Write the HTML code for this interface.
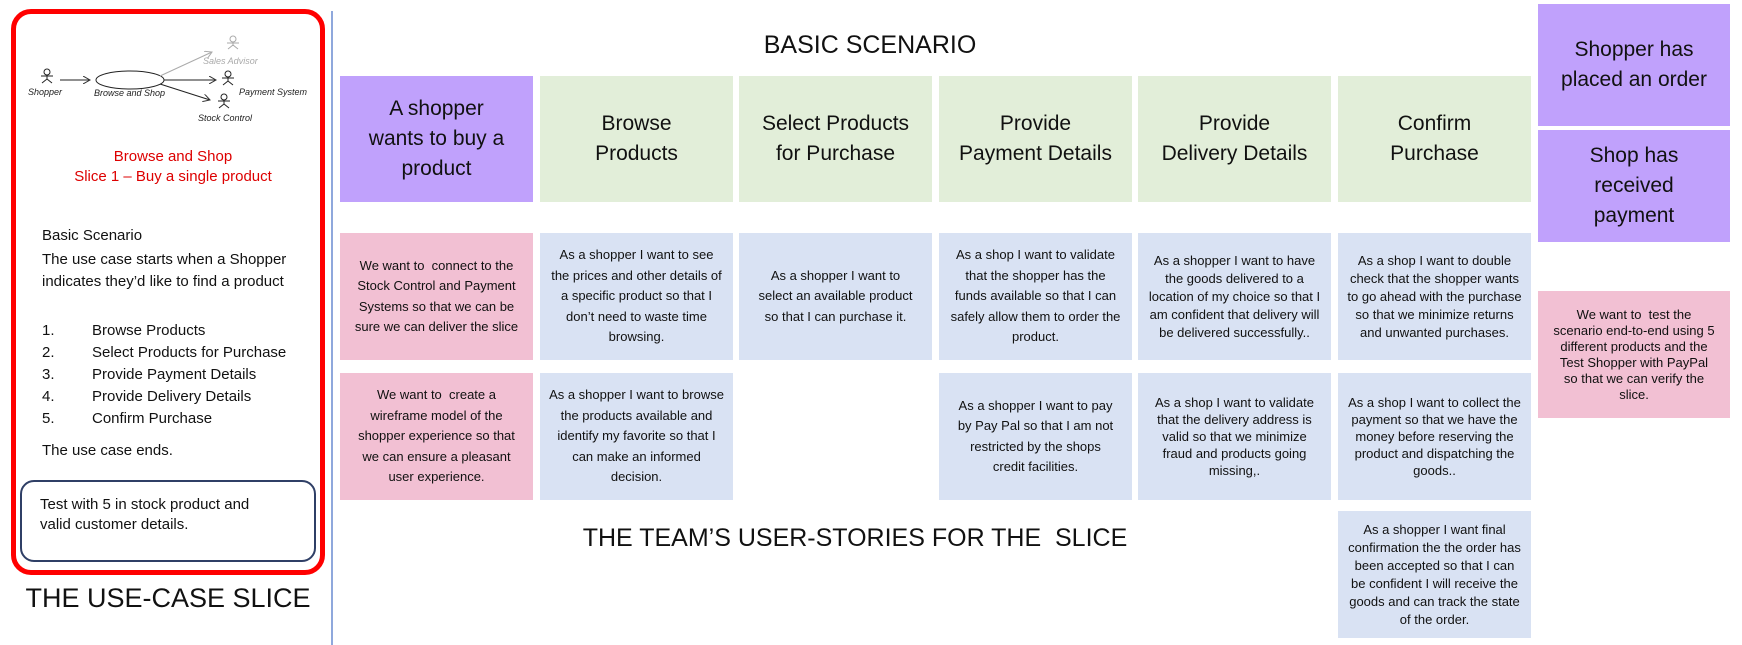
<!DOCTYPE html>
<html><head><meta charset="utf-8"><style>
*{margin:0;padding:0;box-sizing:border-box}
body{width:1742px;height:645px;background:#fff;position:relative;overflow:hidden;font-family:"Liberation Sans",sans-serif;color:#111}
.a{position:absolute}
.box{position:absolute;display:flex;align-items:center;justify-content:center;text-align:center}
.h{font-size:21px;line-height:30px;width:193px;height:126px;top:76px;padding:0 26px}
.s{font-size:13px;line-height:20.5px;width:193px;height:127px;padding:0 9px}
.p{background:#c0a1fc}.g{background:#e2eed9}.b{background:#d9e2f3}.k{background:#f2c0d3}
.t{position:absolute;left:42px;font-size:15px;white-space:nowrap}
</style></head><body>
<div class="a" style="left:11px;top:9px;width:314px;height:566px;border:5px solid #f00;border-radius:20px"></div>
<svg class="a" style="left:0;top:0" width="340" height="140" font-family="Liberation Sans" font-style="italic" font-size="9">
<defs><marker id="m" markerWidth="8" markerHeight="8" refX="7" refY="4" orient="auto"><path d="M0,0L7,4L0,8" fill="none" stroke="#333"/></marker>
<marker id="mg" markerWidth="8" markerHeight="8" refX="7" refY="4" orient="auto"><path d="M0,0L7,4L0,8" fill="none" stroke="#aaa"/></marker></defs>
<g stroke="#222" fill="none" stroke-width="1">
<circle cx="47" cy="72" r="3"/><path d="M41,76h12M47,75v4M42,83l5-4l5,4"/>
<circle cx="228" cy="74" r="3"/><path d="M222,78h12M228,77v4M223,85l5-4l5,4"/>
<circle cx="224" cy="97" r="3"/><path d="M218,101h12M224,100v4M219,108l5-4l5,4"/>
<ellipse cx="130" cy="80" rx="34" ry="9"/>
<path d="M60,80H90" marker-end="url(#m)"/>
<path d="M164,80H216" marker-end="url(#m)"/>
<path d="M160,84L210,100" marker-end="url(#m)"/>
</g>
<g stroke="#aaa" fill="none"><circle cx="233" cy="39" r="3"/><path d="M227,43h12M233,42v4M228,49l5-4l5,4"/><path d="M160,76L212,52" marker-end="url(#mg)"/></g>
<text x="28" y="95" fill="#222">Shopper</text>
<text x="94" y="96" fill="#222">Browse and Shop</text>
<text x="203" y="64" fill="#aaa">Sales Advisor</text>
<text x="239" y="95" fill="#222">Payment System</text>
<text x="198" y="121" fill="#222">Stock Control</text>
</svg>
<div class="a" style="left:11px;width:324px;top:147px;text-align:center;color:#d00;font-size:15px;line-height:20px">Browse and Shop<br>Slice 1 – Buy a single product</div>
<div class="t" style="top:227px">Basic Scenario</div>
<div class="t" style="top:249px;line-height:22px;white-space:normal;width:250px">The use case starts when a Shopper indicates they’d like to find a product</div>
<div class="t" style="top:322px">1.</div><div class="t" style="top:322px;left:92px">Browse Products</div>
<div class="t" style="top:344px">2.</div><div class="t" style="top:344px;left:92px">Select Products for Purchase</div>
<div class="t" style="top:366px">3.</div><div class="t" style="top:366px;left:92px">Provide Payment Details</div>
<div class="t" style="top:388px">4.</div><div class="t" style="top:388px;left:92px">Provide Delivery Details</div>
<div class="t" style="top:410px">5.</div><div class="t" style="top:410px;left:92px">Confirm Purchase</div>
<div class="t" style="top:442px">The use case ends.</div>
<div class="a" style="left:20px;top:480px;width:296px;height:82px;border:2px solid #2f3f66;border-radius:14px;padding:13px 0 0 18px;font-size:15px;line-height:20px">Test with 5 in stock product and<br>valid customer details.</div>
<div class="a" style="left:11px;width:314px;top:583px;text-align:center;font-size:27px">THE USE-CASE SLICE</div>
<div class="a" style="left:331px;top:11px;width:2px;height:634px;background:#8fa8dc"></div>
<div class="a" style="left:640px;width:460px;top:31px;text-align:center;font-size:25px">BASIC SCENARIO</div>
<div class="a" style="left:480px;width:750px;top:524px;text-align:center;font-size:25px">THE TEAM’S USER-STORIES FOR THE&nbsp; SLICE</div>

<div class="box h p" style="left:340px">A shopper wants to buy a product</div>
<div class="box h g" style="left:540px">Browse<br>Products</div>
<div class="box h g" style="left:739px;padding:0 14px">Select Products for Purchase</div>
<div class="box h g" style="left:939px;padding:0 6px">Provide<br>Payment Details</div>
<div class="box h g" style="left:1138px;padding:0 6px">Provide<br>Delivery Details</div>
<div class="box h g" style="left:1338px">Confirm<br>Purchase</div>

<div class="box h p" style="left:1538px;top:4px;height:122px;width:192px;padding:0 20px">Shopper has placed an order</div>
<div class="box h p" style="left:1538px;top:130px;height:112px;width:192px;padding:0 40px">Shop has received payment</div>
<div class="box s k" style="left:1538px;top:291px;width:192px;line-height:16px;height:127px;padding:0 14px">We want to&nbsp; test the scenario end-to-end using 5 different products and the Test Shopper with PayPal so that we can verify the slice.</div>

<div class="box s k" style="left:340px;top:233px">We want to&nbsp; connect to the Stock Control and Payment Systems so that we can be sure we can deliver the slice</div>
<div class="box s b" style="left:540px;top:233px">As a shopper I want to see the prices and other details of a specific product so that I don’t need to waste time browsing.</div>
<div class="box s b" style="left:739px;top:233px;padding:0 18px">As a shopper I want to select an available product so that I can purchase it.</div>
<div class="box s b" style="left:939px;top:233px">As a shop I want to validate that the shopper has the funds available so that I can safely allow them to order the product.</div>
<div class="box s b" style="left:1138px;top:233px;line-height:18px">As a shopper I want to have the goods delivered to a location of my choice so that I am confident that delivery will be delivered successfully..</div>
<div class="box s b" style="left:1338px;top:233px;line-height:18px">As a shop I want to double check that the shopper wants to go ahead with the purchase so that we minimize returns and unwanted purchases.</div>

<div class="box s k" style="left:340px;top:373px">We want to&nbsp; create a wireframe model of the shopper experience so that we can ensure a pleasant user experience.</div>
<div class="box s b" style="left:540px;top:373px">As a shopper I want to browse the products available and identify my favorite so that I can make an informed decision.</div>
<div class="box s b" style="left:939px;top:373px;padding:0 14px">As a shopper I want to pay by Pay Pal so that I am not restricted by the shops credit facilities.</div>
<div class="box s b" style="left:1138px;top:373px;line-height:17px">As a shop I want to validate that the delivery address is valid so that we minimize fraud and products going missing,.</div>
<div class="box s b" style="left:1338px;top:373px;line-height:17px">As a shop I want to collect the payment so that we have the money before reserving the product and dispatching the goods..</div>
<div class="box s b" style="left:1338px;top:511px;line-height:18px">As a shopper I want final confirmation the the order has been accepted so that I can be confident I will receive the goods and can track the state of the order.</div>
</body></html>
